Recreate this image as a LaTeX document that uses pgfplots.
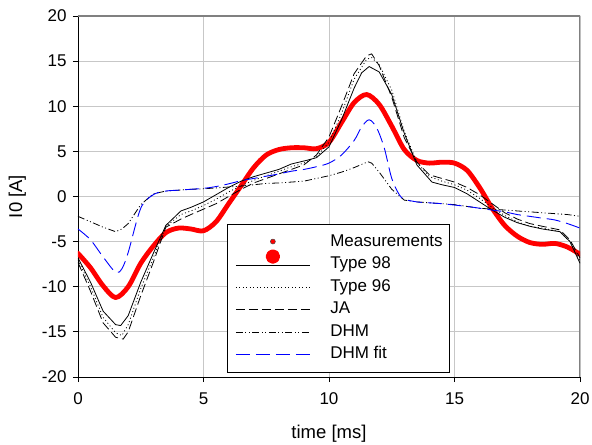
\documentclass[border=0pt]{standalone}
\usepackage{pgfplots}
\pgfplotsset{compat=1.18}
\usepackage{fontspec}
\setmainfont{Liberation Sans}
\begin{document}
\begin{tikzpicture}
\begin{axis}[
  name=ax,
  scale only axis,
  width=502bp, height=361bp,
  xmin=0, xmax=20, ymin=-20, ymax=20,
  xtick={0,5,10,15,20}, ytick={-20,-15,...,20},
  axis x line*=bottom, axis y line*=left,
  axis line style={-, black, line width=0.9bp},
  xtick pos=bottom, ytick pos=left,
  tick align=outside, major tick length=5bp,
  tick style={black, line width=0.8bp},
  grid=major,
  grid style={black!22, line width=0.9bp},
  /pgf/number format/assume math mode=true,
  ticklabel style={font=\fontsize{17bp}{17bp}\selectfont},
  xticklabel style={yshift=-7bp},
  yticklabel style={xshift=-3bp},
  label style={font=\fontsize{18.5bp}{18.5bp}\selectfont},
  xlabel style={yshift=-14bp},
  ylabel style={yshift=9bp},
  xlabel={time [ms]},
  ylabel={I0 [A]},
  legend image code/.code={\draw[#1] (0bp,0bp) -- (74bp,0bp); \path (91bp,0bp);},
  legend style={at={(0.297,0.424)}, anchor=north west, draw=black, line width=0.8bp,
    fill=white, font=\fontsize{17bp}{17bp}\selectfont,
    inner xsep=6bp, inner ysep=7bp,
    nodes={text height=12bp, text depth=4bp, inner ysep=3.2bp, inner xsep=1bp}},
  legend cell align=left,
]
\draw[black!50, line width=1.2bp] (rel axis cs:0,1) -- (rel axis cs:1,1) -- (rel axis cs:1,0);
% Measurements
\addplot[red, line width=4.8bp, line cap=round, line join=round, smooth,
  legend image code/.code={\fill[red, draw=black!70, line width=0.5bp] (37bp,1bp) circle (2.5bp);
    \fill[red, overlay] (37bp,-14bp) circle (4.8bp); \path (0bp,0bp) (91bp,0bp);}]
  coordinates {
  (0,-6.3) (0.5,-7.9) (1.0,-9.9) (1.5,-11.2) (2.0,-10.0) (2.5,-7.4) (3.0,-5.5)
  (3.5,-4.0) (4.0,-3.5) (4.5,-3.6) (5.0,-3.8) (5.5,-2.8) (6.0,-0.8) (6.5,1.2)
  (7.0,3.2) (7.5,4.6) (8.0,5.2) (8.5,5.4) (9.0,5.4) (9.5,5.3) (10.0,6.0)
  (10.5,8.2) (11.0,10.4) (11.5,11.3) (12.0,10.2) (12.5,7.8) (13.0,5.2)
  (13.5,4.0) (14.0,3.7) (14.5,3.8) (15.0,3.7) (15.5,2.9) (16.0,1.0)
  (16.5,-1.3) (17.0,-3.2) (17.5,-4.4) (18.0,-5.1) (18.5,-5.3) (19.0,-5.2)
  (19.5,-5.6) (20.0,-6.4)
  };
\addlegendentry{Measurements}
% Type 98
\addplot[black, line width=0.8bp] coordinates {
  (0,-6.8) (0.5,-9.5) (1.0,-12.7) (1.5,-14.2) (1.7,-14.3) (2.0,-13.2) (2.5,-9.5) (3.0,-6.3)
  (3.5,-3.2) (4.1,-1.6) (4.5,-1.2) (5.0,-0.6) (5.5,0.2) (6.0,1.0) (6.5,1.7)
  (7.0,2.2) (7.5,2.6) (8.0,3.0) (8.5,3.6) (9.1,4.0) (9.5,4.3) (10.0,5.5)
  (10.5,8.5) (11.0,12.0) (11.3,13.7) (11.6,14.4) (12.0,13.8) (12.5,11.3) (13.0,7.0)
  (13.5,3.5) (14.1,1.6) (14.5,1.3) (15.0,1.0) (15.5,0.3) (16.0,-0.6) (16.5,-1.5)
  (17.0,-2.3) (17.5,-2.9) (18.0,-3.3) (18.5,-3.6) (19.2,-3.9) (19.6,-5.0) (20.0,-7.4)
  };
\addlegendentry{Type 98}
% Type 96
\addplot[black, line width=0.8bp, dash pattern=on 1bp off 2.5bp] coordinates {
  (0,-7.0) (0.5,-10.0) (1.0,-13.4) (1.5,-15.1) (1.75,-15.4) (2.0,-14.2) (2.5,-10.2)
  (3.0,-6.8) (3.5,-3.3) (4.1,-2.0) (4.5,-1.6) (5.0,-1.0) (5.5,-0.3) (6.0,0.5)
  (6.5,1.2) (7.0,1.8) (7.5,2.3) (8.0,2.8) (8.5,3.3) (9.0,3.7) (9.5,4.4)
  (10.0,6.0) (10.5,9.2) (11.0,13.0) (11.5,15.2) (11.7,15.4) (12.0,14.6)
  (12.5,11.8) (13.0,7.2) (13.5,3.8) (14.0,2.2) (14.5,1.7) (15.0,1.3) (15.5,0.7)
  (16.0,-0.2) (16.5,-1.2) (17.0,-2.1) (17.5,-2.8) (18.0,-3.3) (18.5,-3.5)
  (19.2,-3.9) (19.6,-5.0) (20.0,-7.1)
  };
\addlegendentry{Type 96}
% JA
\addplot[black, line width=0.8bp, dash pattern=on 9bp off 4bp] coordinates {
  (0,-7.3) (0.5,-10.5) (1.0,-14.0) (1.5,-15.6) (1.8,-15.8) (2.0,-15.0) (2.5,-11.0)
  (3.0,-7.3) (3.5,-3.4) (4.1,-2.5) (4.5,-2.0) (5.0,-1.4) (5.5,-0.8) (6.0,0.0)
  (6.5,0.8) (7.0,1.5) (7.5,2.0) (8.0,2.5) (8.5,3.0) (9.0,3.5) (9.5,4.6)
  (10.0,6.6) (10.5,10.0) (11.0,13.6) (11.5,15.6) (11.7,15.8) (12.0,14.5)
  (12.5,11.0) (13.0,6.5) (13.5,3.8) (14.0,2.4) (14.5,2.0) (15.0,1.6) (15.5,1.0)
  (16.0,0.2) (16.5,-0.8) (17.0,-1.8) (17.5,-2.5) (18.0,-3.0) (18.5,-3.3)
  (19.2,-3.7) (19.6,-4.8) (20.0,-6.8)
  };
\addlegendentry{JA}
% DHM
\addplot[black, line width=0.8bp, dash pattern=on 7bp off 2.5bp on 1bp off 2.5bp on 1bp off 2.5bp] coordinates {
  (0,-2.2) (0.5,-2.8) (1.0,-3.4) (1.5,-3.9) (1.75,-3.6) (2.0,-3.0) (2.5,-0.9)
  (3.0,0.3) (3.5,0.6) (4.0,0.7) (4.5,0.8) (5.0,0.85) (5.5,0.95) (6.0,1.05)
  (6.5,1.15) (7.0,1.3) (7.5,1.45) (8.0,1.5) (8.5,1.6) (9.0,1.7) (9.5,2.0)
  (10.0,2.3) (10.5,2.7) (11.0,3.2) (11.55,3.85) (11.7,3.7) (12.0,2.7) (12.5,0.8)
  (13.0,-0.4) (13.5,-0.6) (14.0,-0.7) (14.5,-0.8) (15.0,-0.9) (15.5,-1.1)
  (16.0,-1.3) (16.5,-1.4) (17.0,-1.5) (17.5,-1.6) (18.0,-1.7) (18.5,-1.8)
  (19.0,-1.9) (19.5,-2.0) (20.0,-2.2)
  };
\addlegendentry{DHM}
% DHM fit
\addplot[blue, line width=0.9bp, dash pattern=on 14bp off 6bp, smooth] coordinates {
  (0,-3.6) (0.5,-4.8) (1.0,-6.7) (1.5,-8.4) (1.75,-8.0) (2.0,-6.2) (2.5,-1.3)
  (3.0,0.2) (3.5,0.6) (4.0,0.7) (4.5,0.8) (5.0,0.9) (5.5,1.1) (6.0,1.4)
  (6.5,1.75) (7.0,2.0) (7.5,2.25) (8.0,2.5) (8.5,2.8) (9.0,3.0) (9.5,3.3)
  (10.0,3.7) (10.5,4.6) (11.0,6.2) (11.3,7.7) (11.6,8.5) (11.9,7.6) (12.2,5.4)
  (12.5,2.0) (12.8,0.2) (13.0,-0.3) (13.5,-0.6) (14.0,-0.7) (14.5,-0.8)
  (15.0,-0.95) (15.5,-1.1) (16.0,-1.3) (16.5,-1.5) (17.0,-1.7) (17.5,-2.0)
  (18.0,-2.2) (18.5,-2.4) (19.0,-2.6) (19.5,-3.0) (20.0,-3.5)
  };
\addlegendentry{DHM fit}
\end{axis}
\pgfresetboundingbox
\path[use as bounding box] ([shift={(-78bp,-68bp)}]ax.south west) rectangle ([shift={(12bp,16bp)}]ax.north east);
\end{tikzpicture}
\end{document}
